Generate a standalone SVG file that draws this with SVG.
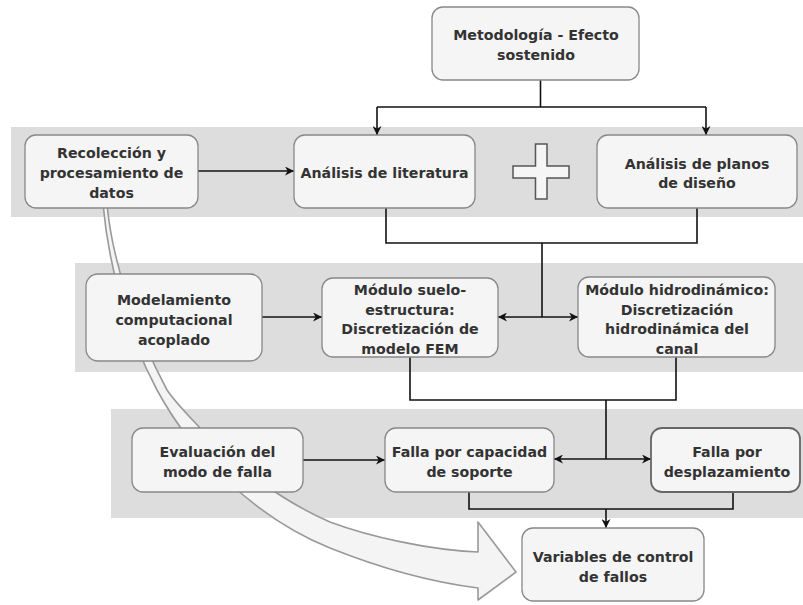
<svg xmlns="http://www.w3.org/2000/svg" width="803" height="605" viewBox="0 0 803 605">
<defs>
<marker id="ah" viewBox="0 0 10 10" refX="10" refY="5" markerWidth="9" markerHeight="9" markerUnits="userSpaceOnUse" orient="auto-start-reverse">
<path d="M0,0 L10,5 L0,10 L3,5 z" fill="#111"/>
</marker>
<style>
.band{fill:#dddddd;}
.box{fill:#f5f5f5;stroke:#888;stroke-width:1.3;}
.t{font-family:"DejaVu Sans","Verdana",sans-serif;font-weight:bold;font-size:14.2px;fill:#333;text-anchor:middle;}
.c{fill:none;stroke:#111;stroke-width:1.6;}
</style>
</defs>
<rect width="803" height="605" fill="#fff"/>
<g id="bands">
<rect class="band" x="11" y="127" width="792" height="90"/>
<rect class="band" x="75" y="263" width="728" height="109"/>
<rect class="band" x="111" y="409" width="692" height="109"/>
</g>
<g id="big-arrow">
<path d="M103,204 C108,260 125,330 157,390 C195,460 260,520 330,548 C380,568 430,582 478,588 L478,600 L516,572 L478,522 L478,552 C430,550 370,537 330,522 C290,505 230,465 200,428 C188,415 175,402 167,390 C135,330 112,260 107,204 Z" fill="#f4f4f4" stroke="#999" stroke-width="1.6" stroke-linejoin="round"/>
</g>
<g id="connectors">
<path class="c" d="M540.5,80 V107"/>
<path class="c" d="M377,107 H706"/>
<path class="c" d="M377,107 V135" marker-end="url(#ah)"/>
<path class="c" d="M706,107 V135" marker-end="url(#ah)"/>
<path class="c" d="M198,171 H294" marker-end="url(#ah)"/>
<path class="c" d="M386,208 V243 H697 V208"/>
<path class="c" d="M542,243 V317"/>
<path class="c" d="M498,317 H578" marker-start="url(#ah)" marker-end="url(#ah)"/>
<path class="c" d="M262,317 H322" marker-end="url(#ah)"/>
<path class="c" d="M410,357 V400 H676 V357"/>
<path class="c" d="M606,400 V459"/>
<path class="c" d="M554,459 H651" marker-start="url(#ah)" marker-end="url(#ah)"/>
<path class="c" d="M303,460 H385" marker-end="url(#ah)"/>
<path class="c" d="M469,492 V509 H733 V492"/>
<path class="c" d="M606,509 V528" marker-end="url(#ah)"/>
</g>
<g id="n-metodologia">
<rect class="box" x="432" y="7" width="207" height="73" rx="11"/>
<text class="t" x="536" y="40">Metodología - Efecto</text>
<text class="t" x="536" y="60">sostenido</text>
</g>
<g id="n-recoleccion">
<rect class="box" x="25" y="135" width="173" height="73" rx="11"/>
<text class="t" x="111.5" y="158">Recolección y</text>
<text class="t" x="111.5" y="178">procesamiento de</text>
<text class="t" x="111.5" y="198">datos</text>
</g>
<g id="n-literatura">
<rect class="box" x="294" y="135" width="181" height="73" rx="11"/>
<text class="t" x="384.5" y="178">Análisis de literatura</text>
</g>
<g id="n-plus">
<path d="M535.5,144 H547 V166 H569 V178 H547 V199 H535.5 V178 H513 V166 H535.5 Z" fill="#f5f5f5" stroke="#555" stroke-width="1.5"/>
</g>
<g id="n-planos">
<rect class="box" x="597" y="135" width="200" height="73" rx="11"/>
<text class="t" x="697" y="169">Análisis de planos</text>
<text class="t" x="697" y="188">de diseño</text>
</g>
<g id="n-modelamiento">
<rect class="box" x="86" y="274" width="176" height="87" rx="12"/>
<text class="t" x="174" y="305">Modelamiento</text>
<text class="t" x="174" y="325">computacional</text>
<text class="t" x="174" y="345">acoplado</text>
</g>
<g id="n-suelo">
<rect class="box" x="322" y="278" width="176" height="79" rx="11"/>
<text class="t" x="410" y="295">Módulo suelo-</text>
<text class="t" x="410" y="314.5">estructura:</text>
<text class="t" x="410" y="334">Discretización de</text>
<text class="t" x="410" y="353.5">modelo FEM</text>
</g>
<g id="n-hidro">
<rect class="box" x="578" y="277" width="197" height="80" rx="11"/>
<text class="t" x="677" y="295">Módulo hidrodinámico:</text>
<text class="t" x="677" y="314.5">Discretización</text>
<text class="t" x="677" y="334">hidrodinámica del</text>
<text class="t" x="677" y="353.5">canal</text>
</g>
<g id="n-evaluacion">
<rect class="box" x="132" y="428" width="171" height="64" rx="11"/>
<text class="t" x="217.5" y="457">Evaluación del</text>
<text class="t" x="217.5" y="477">modo de falla</text>
</g>
<g id="n-capacidad">
<rect class="box" x="385" y="428" width="169" height="64" rx="11"/>
<text class="t" x="469.5" y="457">Falla por capacidad</text>
<text class="t" x="469.5" y="477">de soporte</text>
</g>
<g id="n-desplazamiento">
<rect class="box" x="651" y="428" width="149" height="64" rx="11" style="stroke:#666;stroke-width:1.8"/>
<text class="t" x="727" y="457">Falla por</text>
<text class="t" x="727" y="477">desplazamiento</text>
</g>
<g id="n-variables">
<rect class="box" x="522" y="528" width="182" height="73" rx="11"/>
<text class="t" x="613" y="562">Variables de control</text>
<text class="t" x="613" y="582">de fallos</text>
</g>
</svg>
